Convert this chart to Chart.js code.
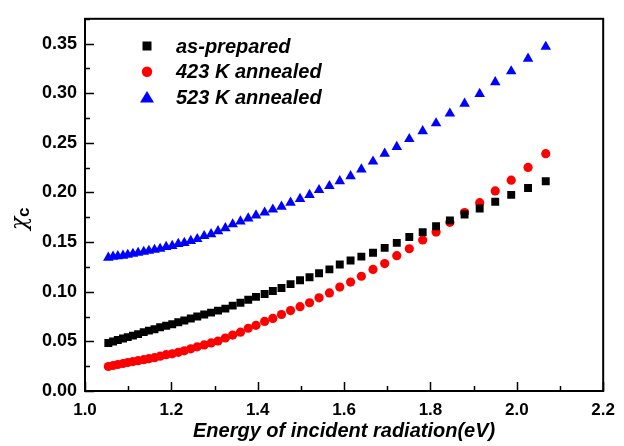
<!DOCTYPE html>
<html>
<head>
<meta charset="utf-8">
<script src="https://cdn.jsdelivr.net/npm/chart.js@4.4.1/dist/chart.umd.min.js"></script>
<style>
  html, body { margin: 0; padding: 0; background: #fff; }
</style>
</head>
<body>
<canvas id="chartChi" width="624" height="446"></canvas>
<script>
// photon energy (eV) of each measured point
var energy = [1.054, 1.065, 1.076, 1.088, 1.099, 1.111, 1.123, 1.136, 1.148, 1.161,
  1.174, 1.188, 1.202, 1.216, 1.230, 1.245, 1.260, 1.276, 1.292, 1.308,
  1.325, 1.342, 1.360, 1.378, 1.396, 1.416, 1.435, 1.455, 1.476, 1.498,
  1.520, 1.542, 1.566, 1.590, 1.615, 1.640, 1.667, 1.694, 1.722, 1.751,
  1.782, 1.813, 1.845, 1.879, 1.914, 1.950, 1.987, 2.026, 2.067];

var asPrepared = [0.0484, 0.0499, 0.0514, 0.0529, 0.0543, 0.0558, 0.0573, 0.0593, 0.0608, 0.0622,
  0.0642, 0.0657, 0.0672, 0.0692, 0.0711, 0.0731, 0.0751, 0.0771, 0.0790, 0.0810,
  0.0830, 0.0860, 0.0889, 0.0919, 0.0948, 0.0978, 0.1008, 0.1037, 0.1077, 0.1116,
  0.1146, 0.1186, 0.1225, 0.1275, 0.1314, 0.1354, 0.1393, 0.1442, 0.1492, 0.1551,
  0.1601, 0.1660, 0.1719, 0.1778, 0.1838, 0.1907, 0.1976, 0.2045, 0.2114];

var annealed423 = [0.0247, 0.0257, 0.0267, 0.0277, 0.0287, 0.0296, 0.0306, 0.0316, 0.0326, 0.0336,
  0.0351, 0.0366, 0.0375, 0.0390, 0.0405, 0.0425, 0.0445, 0.0464, 0.0484, 0.0504,
  0.0534, 0.0563, 0.0593, 0.0632, 0.0662, 0.0701, 0.0731, 0.0771, 0.0810, 0.0850,
  0.0889, 0.0939, 0.0988, 0.1047, 0.1097, 0.1156, 0.1225, 0.1284, 0.1363, 0.1433,
  0.1522, 0.1601, 0.1699, 0.1798, 0.1897, 0.2016, 0.2124, 0.2253, 0.2391];

var annealed523 = [0.1344, 0.1354, 0.1359, 0.1363, 0.1373, 0.1383, 0.1393, 0.1403, 0.1413, 0.1423,
  0.1433, 0.1452, 0.1462, 0.1482, 0.1492, 0.1512, 0.1531, 0.1561, 0.1581, 0.1610,
  0.1640, 0.1680, 0.1709, 0.1739, 0.1769, 0.1798, 0.1828, 0.1857, 0.1897, 0.1936,
  0.1976, 0.2025, 0.2065, 0.2114, 0.2164, 0.2233, 0.2312, 0.2391, 0.2460, 0.2539,
  0.2618, 0.2697, 0.2796, 0.2895, 0.2994, 0.3112, 0.3221, 0.3349, 0.3468];

var seriesNames = ['as-prepared', '423 K annealed', '523 K annealed'];
var xTicks = [1.0, 1.2, 1.4, 1.6, 1.8, 2.0, 2.2];
var yTicks = [0.00, 0.05, 0.10, 0.15, 0.20, 0.25, 0.30, 0.35];

function pairs(vals) {
  return energy.map(function (e, i) { return { x: e, y: vals[i] }; });
}

// frame, inward ticks, y title and the legend inside the plot
var framePlugin = {
  id: 'frame',
  afterDraw: function (chart) {
    var ctx = chart.ctx, a = chart.chartArea;
    var xs = chart.scales.x, ys = chart.scales.y;
    ctx.save();
    ctx.strokeStyle = '#000';
    ctx.lineWidth = 2;
    ctx.strokeRect(a.left, a.top, a.right - a.left, a.bottom - a.top);

    ctx.lineWidth = 1.5;
    ctx.beginPath();
    for (var i = 0; i < xTicks.length; i++) {
      var px = Math.round(xs.getPixelForValue(xTicks[i])) + 0.5;
      ctx.moveTo(px, a.bottom); ctx.lineTo(px, a.bottom - 9);
      if (i < xTicks.length - 1) {
        var pm = Math.round(xs.getPixelForValue((xTicks[i] + xTicks[i + 1]) / 2)) + 0.5;
        ctx.moveTo(pm, a.bottom); ctx.lineTo(pm, a.bottom - 5);
      }
    }
    for (var j = 0; j < yTicks.length; j++) {
      var py = Math.round(ys.getPixelForValue(yTicks[j])) + 0.5;
      ctx.moveTo(a.left, py); ctx.lineTo(a.left + 9, py);
      var pn = Math.round(ys.getPixelForValue(yTicks[j] + 0.025)) + 0.5;
      if (pn > a.top) { ctx.moveTo(a.left, pn); ctx.lineTo(a.left + 5, pn); }
    }
    ctx.stroke();

    // y axis title: chi with subscript c
    ctx.save();
    ctx.translate(26, 217);
    ctx.rotate(-Math.PI / 2);
    ctx.fillStyle = '#000';
    ctx.textBaseline = 'alphabetic';
    ctx.textAlign = 'left';
    ctx.font = 'italic 22px "DejaVu Serif", serif';
    ctx.fillText('χ', -13, 0);
    ctx.font = 'bold 17px "Liberation Sans", Arial, sans-serif';
    ctx.fillText('c', 0, 3);
    ctx.restore();

    // legend
    ctx.font = 'italic bold 20px "Liberation Sans", Arial, sans-serif';
    ctx.textBaseline = 'middle';
    ctx.textAlign = 'left';
    chart.data.datasets.forEach(function (ds, k) {
      var lx = 147, ly = 46 + k * 25.7;
      ctx.fillStyle = ds.backgroundColor;
      ctx.beginPath();
      if (ds.pointStyle === 'rect') {
        ctx.rect(lx - 4.5, ly - 4.5, 9, 9);
      } else if (ds.pointStyle === 'circle') {
        ctx.arc(lx, ly, 5.2, 0, Math.PI * 2);
      } else {
        ctx.moveTo(lx, ly - 6.5); ctx.lineTo(lx + 7, ly + 5); ctx.lineTo(lx - 7, ly + 5);
        ctx.closePath();
      }
      ctx.fill();
      ctx.fillStyle = '#000';
      ctx.fillText(ds.label, 176, ly + 1);
    });
    ctx.restore();
  }
};

var ctx = document.getElementById('chartChi');
new Chart(ctx, {
  type: 'scatter',
  data: {
    datasets: [
      { label: seriesNames[0], data: pairs(asPrepared), pointStyle: 'rect',
        backgroundColor: '#000000', borderColor: '#000000', borderWidth: 0, pointRadius: 5.6 },
      { label: seriesNames[1], data: pairs(annealed423), pointStyle: 'circle',
        backgroundColor: '#ff0000', borderColor: '#ff0000', borderWidth: 0, pointRadius: 4.6 },
      { label: seriesNames[2], data: pairs(annealed523), pointStyle: 'triangle',
        backgroundColor: '#0000ff', borderColor: '#0000ff', borderWidth: 0, pointRadius: 6.1 }
    ]
  },
  options: {
    responsive: false,
    animation: false,
    layout: { padding: { top: 12, right: 17, left: 0, bottom: 0 } },
    plugins: { legend: { display: false }, tooltip: { enabled: false } },
    scales: {
      x: {
        type: 'linear', min: 1.0, max: 2.2,
        afterFit: function (s) { s.height = 55; },
        afterBuildTicks: function (s) { s.ticks = xTicks.map(function (v) { return { value: v }; }); },
        grid: { display: false, drawTicks: false },
        border: { display: false },
        ticks: {
          padding: 9, color: '#000', maxRotation: 0,
          font: { family: '"Liberation Sans", Arial, sans-serif', size: 17, weight: 'bold' },
          callback: function (v) { return v.toFixed(1); }
        },
        title: {
          display: true, text: 'Energy of incident radiation(eV)', color: '#000',
          padding: { top: 0, bottom: 3 },
          font: { family: '"Liberation Sans", Arial, sans-serif', size: 20, weight: 'bold', style: 'italic' }
        }
      },
      y: {
        type: 'linear', min: 0, max: 0.375,
        afterFit: function (s) { s.width = 85; },
        afterBuildTicks: function (s) { s.ticks = yTicks.map(function (v) { return { value: v }; }); },
        grid: { display: false, drawTicks: false },
        border: { display: false },
        ticks: {
          padding: 8, color: '#000',
          font: { family: '"Liberation Sans", Arial, sans-serif', size: 18, weight: 'bold' },
          callback: function (v) { return v.toFixed(2); }
        },
        title: { display: false }
      }
    }
  },
  plugins: [framePlugin]
});
</script>
</body>
</html>
